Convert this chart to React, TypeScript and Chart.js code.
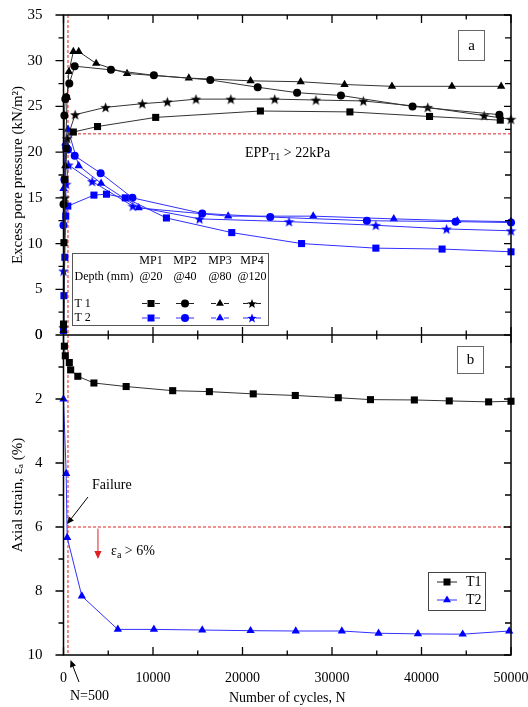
import React, { useEffect, useRef } from 'react';
import { Chart, registerables } from 'chart.js';

Chart.register(...registerables);

const FONT = '"Liberation Serif", "Times New Roman", serif';

// ---- axis ticks ----
const xTicks = [0, 10000, 20000, 30000, 40000, 50000];
const eppTicks = [0, 5, 10, 15, 20, 25, 30, 35];
const strainTicks = [0, 2, 4, 6, 8, 10];

// ---- (a) excess pore pressure, T1 (black) ----
const t1mp1N = [0, 50, 150, 300, 1100, 3800, 10300, 22000, 32000, 40900, 48800];
const t1mp1 = [1.2, 10.1, 17.0, 20.4, 22.2, 22.8, 23.8, 24.5, 24.4, 23.9, 23.5];
const t1mp2N = [0, 100, 200, 300, 650, 1250, 5300, 10100, 16400, 21700, 26100, 31000, 39000, 48700];
const t1mp2 = [14.3, 24.0, 25.8, 26.0, 27.5, 29.4, 29.0, 28.4, 27.9, 27.1, 26.5, 26.2, 25.0, 24.1];
const t1mp3N = [0, 200, 400, 600, 1100, 1700, 3650, 7100, 14000, 20900, 26500, 31400, 36700, 43400, 48900];
const t1mp3 = [0.5, 18.5, 26.0, 28.8, 31.0, 31.0, 29.7, 28.6, 28.1, 27.8, 27.7, 27.4, 27.2, 27.2, 27.2];
const t1mp4N = [0, 150, 400, 1300, 4700, 8800, 11600, 14800, 18700, 23600, 28200, 33500, 40700, 47000, 50000];
const t1mp4 = [0.8, 15.0, 21.5, 24.1, 24.9, 25.3, 25.5, 25.8, 25.8, 25.8, 25.7, 25.6, 24.9, 24.0, 23.6];

// ---- (a) excess pore pressure, T2 (blue) ----
const t2mp1N = [0, 50, 150, 250, 480, 3400, 4800, 6900, 11500, 18800, 26600, 34900, 42300, 50000];
const t2mp1 = [0.5, 4.3, 8.5, 13.0, 14.1, 15.3, 15.4, 15.0, 12.8, 11.2, 10.0, 9.5, 9.4, 9.1];
const t2mp2N = [0, 100, 300, 500, 1250, 4150, 7700, 15500, 23100, 33900, 43800, 50000];
const t2mp2 = [12.0, 17.0, 20.5, 20.3, 19.6, 17.7, 15.0, 13.3, 12.9, 12.5, 12.4, 12.3];
const t2mp3N = [0, 200, 500, 1700, 4200, 8400, 18400, 27900, 36900, 44000, 50000];
const t2mp3 = [16.0, 21.0, 22.5, 18.5, 16.6, 13.9, 13.0, 13.0, 12.7, 12.5, 12.4];
const t2mp4N = [0, 300, 560, 3200, 7750, 15200, 25200, 34900, 42800, 50000];
const t2mp4 = [7.0, 16.5, 18.6, 16.8, 14.1, 12.7, 12.4, 12.0, 11.6, 11.4];

// ---- (b) axial strain ----
const s1N = [100, 200, 650, 800, 1600, 3400, 7000, 12200, 16300, 21200, 25900, 30700, 34300, 39200, 43100, 47500, 50000];
const s1 = [0.35, 0.65, 0.86, 1.09, 1.29, 1.50, 1.61, 1.74, 1.77, 1.84, 1.89, 1.96, 2.02, 2.03, 2.06, 2.09, 2.07];
const s2N = [0, 300, 410, 2050, 6070, 10100, 15500, 20900, 25950, 31100, 35200, 39600, 44600, 49800];
const s2 = [2.0, 4.33, 6.33, 8.16, 9.2, 9.2, 9.22, 9.24, 9.25, 9.25, 9.32, 9.34, 9.35, 9.25];

const BLACK = '#000000';
const BLACK_LINE = '#333333';
const BLUE = '#0000ff';
const BLUE_LINE = '#3030ff';
const RED = '#e02020';

function starPath(ctx: CanvasRenderingContext2D, cx: number, cy: number, R: number, r: number) {
  ctx.beginPath();
  for (let i = 0; i < 10; i++) {
    const a = -Math.PI / 2 + (i * Math.PI) / 5;
    const rad = i % 2 === 0 ? R : r;
    ctx.lineTo(cx + rad * Math.cos(a), cy + rad * Math.sin(a));
  }
  ctx.closePath();
}

function makeStar(color: string, size: number) {
  const c = document.createElement('canvas');
  c.width = size;
  c.height = size;
  const ctx = c.getContext('2d')!;
  starPath(ctx, size / 2, size / 2 + 0.5, size / 2, size / 2 * 0.42);
  ctx.fillStyle = color;
  ctx.fill();
  return c;
}

function drawMarker(ctx: CanvasRenderingContext2D, kind: string, x: number, y: number, color: string) {
  ctx.save();
  ctx.fillStyle = color;
  if (kind === 'rect') {
    ctx.fillRect(x - 3.5, y - 3.5, 7, 7);
  } else if (kind === 'circle') {
    ctx.beginPath();
    ctx.arc(x, y, 4, 0, Math.PI * 2);
    ctx.fill();
  } else if (kind === 'triangle') {
    const r = 4.6;
    ctx.beginPath();
    ctx.moveTo(x, y - r);
    ctx.lineTo(x + r * 0.866, y + r / 2);
    ctx.lineTo(x - r * 0.866, y + r / 2);
    ctx.closePath();
    ctx.fill();
  } else {
    starPath(ctx, x, y + 0.5, 5, 2.1);
    ctx.fill();
  }
  ctx.restore();
}

function series(N: number[], v: number[]) {
  return N.map((n, i) => ({ x: n, y: v[i] }));
}

function arrow(ctx: CanvasRenderingContext2D, x0: number, y0: number, x1: number, y1: number, color: string, head: number) {
  ctx.save();
  ctx.strokeStyle = color;
  ctx.fillStyle = color;
  ctx.lineWidth = 1;
  const a = Math.atan2(y1 - y0, x1 - x0);
  ctx.beginPath();
  ctx.moveTo(x0, y0);
  ctx.lineTo(x1 - Math.cos(a) * head * 0.8, y1 - Math.sin(a) * head * 0.8);
  ctx.stroke();
  ctx.beginPath();
  ctx.moveTo(x1, y1);
  ctx.lineTo(x1 - head * Math.cos(a) + (head * 0.45) * Math.sin(a), y1 - head * Math.sin(a) - (head * 0.45) * Math.cos(a));
  ctx.lineTo(x1 - head * Math.cos(a) - (head * 0.45) * Math.sin(a), y1 - head * Math.sin(a) + (head * 0.45) * Math.cos(a));
  ctx.closePath();
  ctx.fill();
  ctx.restore();
}

const decorPlugin = {
  id: 'decor',
  beforeDatasetsDraw(chart: any) {
    const ctx: CanvasRenderingContext2D = chart.ctx;
    const ca = chart.chartArea;
    const xs = chart.scales.x;
    const yA = chart.scales.yA;
    const yB = chart.scales.yB;
    ctx.save();
    ctx.strokeStyle = RED;
    ctx.lineWidth = 1;
    ctx.setLineDash([3, 2]);
    const x500 = xs.getPixelForValue(500);
    ctx.beginPath();
    ctx.moveTo(x500, ca.top);
    ctx.lineTo(x500, ca.bottom);
    ctx.moveTo(x500, yA.getPixelForValue(22));
    ctx.lineTo(ca.right, yA.getPixelForValue(22));
    ctx.moveTo(x500, yB.getPixelForValue(6));
    ctx.lineTo(ca.right, yB.getPixelForValue(6));
    ctx.stroke();
    ctx.restore();
  },
  afterDraw(chart: any) {
    const ctx: CanvasRenderingContext2D = chart.ctx;
    const ca = chart.chartArea;
    const xs = chart.scales.x;
    const yA = chart.scales.yA;
    const yB = chart.scales.yB;
    const mid = yA.bottom;
    ctx.save();
    ctx.strokeStyle = BLACK;
    ctx.lineWidth = 1.5;
    ctx.strokeRect(ca.left, ca.top, ca.right - ca.left, ca.bottom - ca.top);
    ctx.beginPath();
    ctx.moveTo(ca.left, mid);
    ctx.lineTo(ca.right, mid);
    ctx.stroke();

    ctx.lineWidth = 1.3;
    ctx.beginPath();
    for (let n = 0; n <= 50000; n += 5000) {
      const px = xs.getPixelForValue(n);
      const major = n % 10000 === 0;
      const L = major ? 8 : 4.5;
      ctx.moveTo(px, ca.top);
      ctx.lineTo(px, ca.top + L);
      ctx.moveTo(px, mid - L);
      ctx.lineTo(px, mid + L);
      ctx.moveTo(px, ca.bottom);
      ctx.lineTo(px, ca.bottom - L);
    }
    for (let v = 0; v <= 35; v += 2.5) {
      const py = yA.getPixelForValue(v);
      const major = v % 5 === 0;
      ctx.moveTo(ca.left, py);
      ctx.lineTo(ca.left - (major ? 8 : 5), py);
      ctx.moveTo(ca.right, py);
      ctx.lineTo(ca.right - (major ? 7 : 6), py);
    }
    for (let v = 0; v <= 10; v += 1) {
      const py = yB.getPixelForValue(v);
      const major = v % 2 === 0;
      ctx.moveTo(ca.left, py);
      ctx.lineTo(ca.left - (major ? 8 : 5), py);
      ctx.moveTo(ca.right, py);
      ctx.lineTo(ca.right - (major ? 7 : 6), py);
    }
    ctx.stroke();

    // panel label boxes
    ctx.strokeStyle = '#666';
    ctx.lineWidth = 1;
    ctx.fillStyle = BLACK;
    ctx.font = `15px ${FONT}`;
    ctx.textAlign = 'center';
    ctx.textBaseline = 'middle';
    ctx.strokeRect(458.5, 30.5, 26, 30);
    ctx.fillText('a', 471.5, 46);
    ctx.strokeRect(457.5, 346.5, 26, 27);
    ctx.fillText('b', 470.5, 360.5);

    // top legend
    ctx.strokeStyle = '#555';
    ctx.strokeRect(72.5, 253.5, 196, 72);
    ctx.font = `12px ${FONT}`;
    const cols = [151, 185, 220, 252];
    const hdr = ['MP1', 'MP2', 'MP3', 'MP4'];
    const dep = ['@20', '@40', '@80', '@120'];
    const kinds = ['rect', 'circle', 'triangle', 'star'];
    cols.forEach((cx, i) => {
      ctx.fillStyle = BLACK;
      ctx.fillText(hdr[i], cx, 261);
      ctx.fillText(dep[i], cx, 277);
      [[303.5, BLACK, '#222'], [318, BLUE, BLUE_LINE]].forEach(([yy, mc, lc]: any) => {
        ctx.strokeStyle = lc;
        ctx.lineWidth = 1;
        ctx.beginPath();
        ctx.moveTo(cx - 9, yy);
        ctx.lineTo(cx - 4, yy);
        ctx.moveTo(cx + 4, yy);
        ctx.lineTo(cx + 9, yy);
        ctx.stroke();
        drawMarker(ctx, kinds[i], cx, yy, mc);
      });
    });
    ctx.fillStyle = BLACK;
    ctx.textAlign = 'left';
    ctx.fillText('Depth (mm)', 74.5, 277);
    ctx.fillText('T 1', 74.5, 303.5);
    ctx.fillText('T 2', 74.5, 318);

    // bottom legend
    ctx.strokeStyle = '#444';
    ctx.strokeRect(428.5, 572.5, 57, 38);
    [[582, BLACK, '#222', 'rect', 'T1'], [600, BLUE, BLUE_LINE, 'triangle', 'T2']].forEach(([yy, mc, lc, k, t]: any) => {
      ctx.strokeStyle = lc;
      ctx.beginPath();
      ctx.moveTo(437, yy);
      ctx.lineTo(457, yy);
      ctx.stroke();
      drawMarker(ctx, k, 447, yy, mc);
      ctx.fillStyle = BLACK;
      ctx.font = `14px ${FONT}`;
      ctx.fillText(t, 466, yy + 0.5);
    });

    // EPP annotation
    ctx.font = `14px ${FONT}`;
    ctx.textBaseline = 'alphabetic';
    let tx = 245;
    const ty = 157;
    ctx.fillText('EPP', tx, ty);
    tx += ctx.measureText('EPP').width;
    ctx.font = `10px ${FONT}`;
    ctx.fillText('T1', tx, ty + 3);
    tx += ctx.measureText('T1').width;
    ctx.font = `14px ${FONT}`;
    ctx.fillText(' > 22kPa', tx, ty);

    // strain annotation
    let sx = 111;
    const sy = 555;
    ctx.fillText('ε', sx, sy);
    sx += ctx.measureText('ε').width;
    ctx.font = `10px ${FONT}`;
    ctx.fillText('a', sx, sy + 3);
    sx += ctx.measureText('a').width;
    ctx.font = `14px ${FONT}`;
    ctx.fillText(' > 6%', sx, sy);

    ctx.fillText('Failure', 92, 489);
    ctx.fillText('N=500', 70, 700);

    arrow(ctx, xs.getPixelForValue(3850), yB.getPixelForValue(6.05), xs.getPixelForValue(3850), yB.getPixelForValue(7.0), RED, 8);
    arrow(ctx, 88, 497, xs.getPixelForValue(400), yB.getPixelForValue(6.0) - 3, BLACK, 7);
    arrow(ctx, 79, 682, 70.5, ca.bottom + 5, BLACK, 7);
    ctx.restore();
  },
};

export default function App() {
  const ref = useRef<HTMLCanvasElement | null>(null);
  useEffect(() => {
    if (!ref.current) return;
    const starBlack = makeStar(BLACK, 11);
    const starBlue = makeStar(BLUE, 11);
    const mk = (data: any, yAxisID: string, blue: boolean, style: any, radius: number) => ({
      data,
      yAxisID,
      borderColor: blue ? BLUE_LINE : BLACK_LINE,
      backgroundColor: blue ? BLUE : BLACK,
      borderWidth: 1,
      pointStyle: style,
      pointRadius: radius,
      pointBorderWidth: 0,
      pointBackgroundColor: blue ? BLUE : BLACK,
      tension: 0,
      clip: false,
    });
    const tickFont = { family: FONT, size: 15 };
    const titleFont = { family: FONT, size: 14 };
    const yTitleFont = { family: FONT, size: 15 };
    const chart = new Chart(ref.current, {
      type: 'line',
      data: {
        datasets: [
          mk(series(t1mp1N, t1mp1), 'yA', false, 'rect', 5),
          mk(series(t1mp2N, t1mp2), 'yA', false, 'circle', 4),
          mk(series(t1mp3N, t1mp3), 'yA', false, 'triangle', 4.8),
          mk(series(t1mp4N, t1mp4), 'yA', false, starBlack, 5),
          mk(series(t2mp1N, t2mp1), 'yA', true, 'rect', 5),
          mk(series(t2mp2N, t2mp2), 'yA', true, 'circle', 4),
          mk(series(t2mp3N, t2mp3), 'yA', true, 'triangle', 4.8),
          mk(series(t2mp4N, t2mp4), 'yA', true, starBlue, 5),
          mk(series(s1N, s1), 'yB', false, 'rect', 5),
          mk(series(s2N, s2), 'yB', true, 'triangle', 4.8),
        ] as any,
      },
      options: {
        animation: false,
        responsive: false,
        devicePixelRatio: 1,
        layout: { padding: { left: 0, right: 17, top: 15, bottom: 0 } },
        plugins: { legend: { display: false }, tooltip: { enabled: false } },
        scales: {
          x: {
            type: 'linear',
            min: xTicks[0],
            max: xTicks[xTicks.length - 1],
            afterBuildTicks: (s: any) => { s.ticks = xTicks.map((v) => ({ value: v })); },
            ticks: { font: { family: FONT, size: 14 }, color: BLACK, padding: 7, maxRotation: 0, autoSkip: false, callback: (v: any) => String(v) },
            grid: { display: false },
            border: { display: false },
            title: { display: true, text: 'Number of cycles, N', font: titleFont, color: BLACK, padding: { top: 0, bottom: 0 } },
            afterFit: (s: any) => { s.height = 52; s.paddingLeft = 0; s.paddingRight = 0; },
          },
          yB: {
            type: 'linear',
            position: 'left',
            stack: 'panels',
            stackWeight: 1,
            reverse: true,
            min: 0,
            max: 10,
            afterBuildTicks: (s: any) => { s.ticks = strainTicks.map((v) => ({ value: v })); },
            ticks: { font: tickFont, color: BLACK, padding: 13, autoSkip: false },
            grid: { display: false },
            border: { display: false },
            title: { display: true, text: 'Axial strain, εₐ (%)', font: yTitleFont, color: BLACK, padding: { top: 9, bottom: 0 } },
            afterFit: (s: any) => { s.width = 63.5; s.paddingTop = 0; s.paddingBottom = 0; },
          },
          yA: {
            type: 'linear',
            position: 'left',
            stack: 'panels',
            stackWeight: 1,
            min: 0,
            max: 35,
            afterBuildTicks: (s: any) => { s.ticks = eppTicks.map((v) => ({ value: v })); },
            ticks: { font: tickFont, color: BLACK, padding: 13, autoSkip: false },
            grid: { display: false },
            border: { display: false },
            title: { display: true, text: 'Excess pore pressure (kN/m²)', font: yTitleFont, color: BLACK, padding: { top: 9, bottom: 0 } },
            afterFit: (s: any) => { s.width = 63.5; s.paddingTop = 0; s.paddingBottom = 0; },
          },
        },
      } as any,
      plugins: [decorPlugin],
    });
    return () => chart.destroy();
  }, []);
  return (
    <div style={{ position: 'fixed', left: 0, top: 0, width: 528, height: 707, background: '#fff' }}>
      <canvas ref={ref} width={528} height={707} style={{ width: 528, height: 707, display: 'block' }} />
    </div>
  );
}
